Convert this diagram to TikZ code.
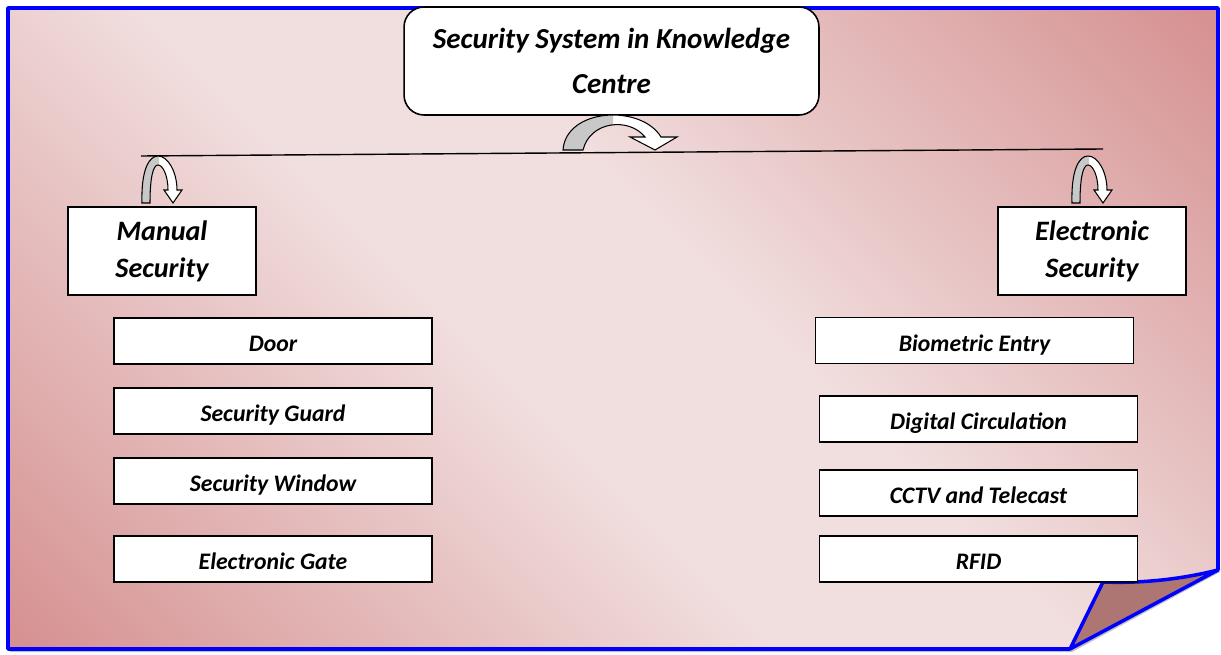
\documentclass[tikz,border=0pt]{standalone}
\usepackage{fontspec}
\setmainfont{Carlito}
\usepackage{tikz}
\usetikzlibrary{positioning}
\definecolor{pglight}{RGB}{241,222,222}
\definecolor{pgdark}{RGB}{214,145,145}
\definecolor{flapred}{RGB}{174,118,115}
\definecolor{turngray}{RGB}{200,200,200}
\pgfdeclarehorizontalshading{pagegrad}{100bp}{color(0bp)=(pgdark); color(15bp)=(pgdark); color(44bp)=(pglight); color(56bp)=(pglight); color(85bp)=(pgdark); color(100bp)=(pgdark)}
\tikzstyle{topbox} = [draw, fill=white, line width=0.9pt, rounded corners=0.4cm, minimum width=8.3cm, minimum height=2.16cm, inner sep=0pt, align=center, font=\fontsize{16.5}{25.5}\selectfont\bfseries\itshape]
\tikzstyle{mainbox} = [draw, fill=white, line width=0.9pt, minimum width=3.76cm, minimum height=1.76cm, inner sep=0pt, align=center, font=\fontsize{16}{21}\selectfont\bfseries\itshape]
\tikzstyle{itembox} = [draw, fill=white, line width=0.9pt, minimum width=6.36cm, minimum height=0.92cm, inner sep=0pt, text height=12.5pt, text depth=0pt, font=\fontsize{13.5}{15}\selectfont\bfseries\itshape]
\tikzstyle{turn} = [draw, line width=0.6pt]
\newcommand{\turnpath}{(142,203) .. controls (141,170) and (149,156) .. (158,156) .. controls (168,156) and (177,172) .. (177,190) -- (182,190) -- (173,203) -- (164,190) -- (168,190) .. controls (168,176) and (163,165) .. (158,165) .. controls (153,165) and (150,178) .. (150,203) -- cycle}

\begin{document}
\begin{tikzpicture}[x=0.02cm, y=-0.02cm]
\useasboundingbox (0,0) rectangle (1221,655);

% Page with folded corner
\fill[black!25] (10,10) -- (1220,10) -- (1220,572) -- (1072,652) -- (10,652) -- cycle;
\shade[shading=pagegrad, shading angle=45] (8,8) -- (1218,8) -- (1218,570) .. controls (1170,582) and (1130,583) .. (1103,582) -- (1070,649) -- (8,649) -- cycle;
\draw[blue, line width=2pt, line join=round] (1218,570) -- (1218,8) -- (8,8) -- (8,649) -- (1070,649);
\filldraw[fill=flapred, draw=blue, line width=2pt, line join=round] (1103,582) .. controls (1130,583) and (1170,582) .. (1218,570) -- (1070,649) -- cycle;

% Title
\node[topbox] (title) at (611.5,61) {Security System in Knowledge\\Centre};

% Branch line
\coordinate (barL) at (141,156);
\coordinate (barR) at (1103,149);
\draw[line width=0.8pt] (barL) -- (barR);

% Curved arrow under the title
\fill[white] (563,150) .. controls (566,108) and (641,104) .. (661,137) -- (677,137) -- (655,150) -- (630,137) -- (645,137) .. controls (629,117) and (590,121) .. (583,150) -- cycle;
\begin{scope}
\clip (500,100) rectangle (613,160);
\fill[turngray] (563,150) .. controls (566,108) and (641,104) .. (661,137) -- (677,137) -- (655,150) -- (630,137) -- (645,137) .. controls (629,117) and (590,121) .. (583,150) -- cycle;
\end{scope}
\draw[turn] (563,150) .. controls (566,108) and (641,104) .. (661,137) -- (677,137) -- (655,150) -- (630,137) -- (645,137) .. controls (629,117) and (590,121) .. (583,150) -- cycle;

% Small curved arrows
\foreach \dx in {0,930} {
\begin{scope}[shift={(\dx,0)}]
\fill[white] \turnpath;
\begin{scope}
\clip (130,150) rectangle (159,210);
\fill[turngray] \turnpath;
\end{scope}
\draw[turn] \turnpath;
\end{scope}
}

% Two groups
\node[mainbox] (manual) at (162,251) {Manual\\Security};
\node[mainbox] (electronic) at (1092,251) {Electronic\\Security};

% Manual items
\node[itembox] (door) at (273,341) {Door};
\node[itembox] (guard) at (273,411) {Security Guard};
\node[itembox] (window) at (273,481) {Security Window};
\node[itembox] (gate) at (273,559) {Electronic Gate};

% Electronic items
\node[itembox] (biometric) at (974.5,340.5) {Biometric Entry};
\node[itembox] (digital) at (978.5,419) {Digital Circulation};
\node[itembox] (cctv) at (978.5,493) {CCTV and Telecast};
\node[itembox] (rfid) at (978.5,559) {RFID};
\end{tikzpicture}
\end{document}
